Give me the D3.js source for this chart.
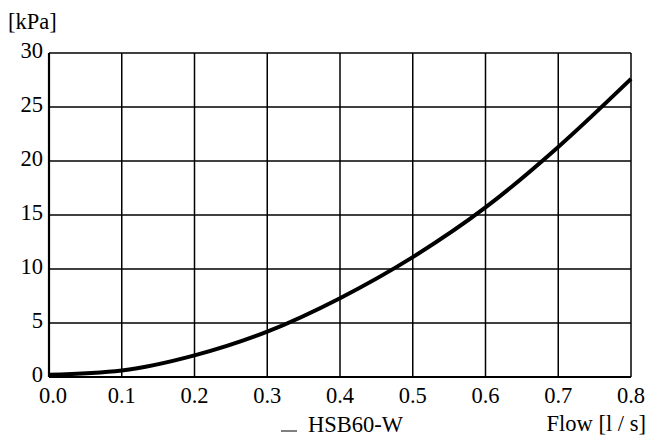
<!DOCTYPE html>
<html>
<head>
<meta charset="utf-8">
<script src="https://cdn.jsdelivr.net/npm/d3@7"></script>
<style>
  html, body { margin: 0; padding: 0; background: #fff; }
  svg { display: block; }
</style>
</head>
<body>
<svg id="chart" width="651" height="436"></svg>
<script>
const flow = [0.0, 0.1, 0.2, 0.3, 0.4, 0.5, 0.6, 0.7, 0.8];
const pressure = [0.2, 0.6, 2.0, 4.2, 7.3, 11.1, 15.7, 21.3, 27.6];
const xTicks = [0.0, 0.1, 0.2, 0.3, 0.4, 0.5, 0.6, 0.7, 0.8];
const yTicks = [0, 5, 10, 15, 20, 25, 30];
const seriesName = "HSB60-W";
const xTitle = "Flow [l / s]";
const yTitle = "[kPa]";

const FONT = "'Liberation Serif', 'Times New Roman', Times, serif";
const svg = d3.select("#chart").attr("font-family", FONT);
const m = { left: 49, right: 631, top: 53, bottom: 377 };
const x = d3.scaleLinear().domain([0, 0.8]).range([m.left, m.right]);
const y = d3.scaleLinear().domain([0, 30]).range([m.bottom, m.top]);
const fs = 22.5;

// grid
svg.append("g").selectAll("line").data(xTicks).join("line")
  .attr("x1", d => x(d)).attr("x2", d => x(d))
  .attr("y1", m.top).attr("y2", m.bottom)
  .attr("stroke", "#000").attr("stroke-width", 1.5);
svg.append("g").selectAll("line").data(yTicks).join("line")
  .attr("x1", m.left).attr("x2", m.right)
  .attr("y1", d => y(d)).attr("y2", d => y(d))
  .attr("stroke", "#000").attr("stroke-width", 1.5);
// axes thicker
svg.append("line").attr("x1", m.left).attr("x2", m.left).attr("y1", m.top).attr("y2", m.bottom)
  .attr("stroke", "#000").attr("stroke-width", 2.2);
svg.append("line").attr("x1", m.left).attr("x2", m.right).attr("y1", m.bottom).attr("y2", m.bottom)
  .attr("stroke", "#000").attr("stroke-width", 2.2);

// curve
const pts = flow.map((f, i) => [f, pressure[i]]);
svg.append("path").datum(pts)
  .attr("fill", "none").attr("stroke", "#000").attr("stroke-width", 4)
  .attr("d", d3.line().x(d => x(d[0])).y(d => y(d[1])).curve(d3.curveMonotoneX));

// y tick labels
svg.append("g").selectAll("text").data(yTicks).join("text")
  .attr("x", m.left - 6).attr("y", d => y(d) - 3).attr("dy", "0.35em")
  .attr("text-anchor", "end").attr("font-size", fs)
  .text(d => d);
// x tick labels
svg.append("g").selectAll("text").data(xTicks).join("text")
  .attr("x", d => x(d) + (d === 0 ? 4 : 0)).attr("y", 403)
  .attr("text-anchor", "middle").attr("font-size", fs)
  .text(d => d.toFixed(1));

// titles
svg.append("text").attr("x", 8).attr("y", 29).attr("font-size", fs).text(yTitle);
svg.append("text").attr("x", 646).attr("y", 431).attr("text-anchor", "end").attr("font-size", fs).text(xTitle);

// legend
svg.append("line").attr("x1", 281).attr("x2", 297).attr("y1", 431).attr("y2", 431)
  .attr("stroke", "#000").attr("stroke-width", 1);
svg.append("text").attr("x", 308).attr("y", 432).attr("font-size", fs).text(seriesName);
</script>
</body>
</html>
